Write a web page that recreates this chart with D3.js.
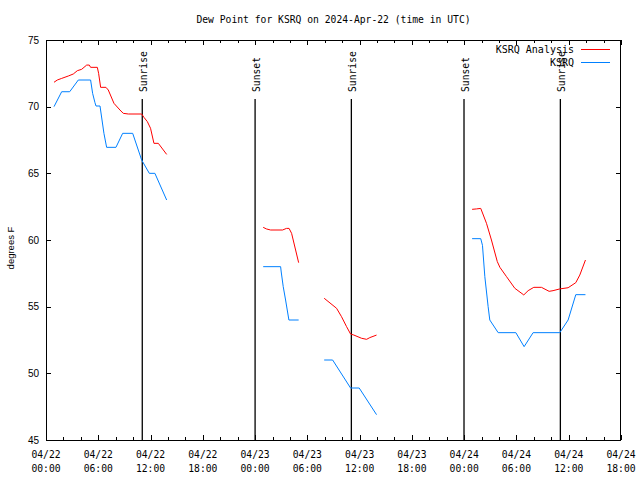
<!DOCTYPE html>
<html>
<head>
<meta charset="utf-8">
<script src="https://cdn.jsdelivr.net/npm/d3@7/dist/d3.min.js"></script>
<style>
  html, body { margin: 0; padding: 0; background: #fff; }
  svg { display: block; }
  .mono { font-family: "DejaVu Sans Mono", "Liberation Mono", monospace; font-size: 9.7px; fill: #000; }
  .sans { font-family: "Liberation Sans", Arial, sans-serif; fill: #000; }
</style>
</head>
<body>
<svg id="chart" width="640" height="480"></svg>
<script>
// ---- Data (hours since 2024-04-22 00:00 UTC; null = gap) ----
const titleText = "Dew Point for KSRQ on 2024-Apr-22 (time in UTC)";
const yLabelText = "degrees F";
const seriesNames = ["KSRQ Analysis", "KSRQ"];
const seriesColors = ["#ff0000", "#0080ff"];

const analysisHours = [0.92,1.3,1.8,2.56,3.13,3.6,4.09,4.67,4.97,5.12,5.89,6.04,6.27,6.88,7.15,7.8,8.49,8.87,9.45,10.98,11.24,11.63,12.0,12.39,12.89,13.85, null,
  24.93,25.3,25.78,27.15,27.6,27.9,28.19,29.0, null,
  31.93,33.35,33.92,34.5,34.96,35.34,36.22,36.8,37.17,37.94, null,
  48.91,49.41,49.9,50.56,51.13,51.8,52.1,52.86,53.81,54.84,55.34,55.99,56.87,57.75,58.2,58.97,59.93,60.81,61.27,61.92];
const analysisValues = [71.83,72.0,72.12,72.3,72.45,72.7,72.8,73.12,73.12,72.95,72.95,72.5,71.45,71.45,71.25,70.25,69.75,69.5,69.45,69.45,69.2,68.88,68.38,67.25,67.25,66.42, null,
  60.95,60.83,60.75,60.75,60.87,60.87,60.5,58.3, null,
  55.63,54.88,54.25,53.5,52.95,52.87,52.63,52.55,52.68,52.87, null,
  62.3,62.33,62.37,61.25,60.0,58.38,57.95,57.25,56.38,55.88,56.2,56.45,56.45,56.15,56.2,56.33,56.42,56.8,57.37,58.5];

const obsHours = [0.92,1.8,2.72,3.71,5.12,5.35,5.62,5.74,6.2,6.65,6.96,8.03,8.8,9.95,10.98,11.86,12.5,13.85, null,
  24.93,26.93,27.0,27.23,27.5,27.88,29.0, null,
  31.93,32.9,34.96,35.95,37.94, null,
  48.91,49.9,50.1,50.37,50.75,50.94,51.9,53.93,54.88,55.91,58.97,59.93,60.81,61.92];
const obsValues = [70.0,71.12,71.12,72.0,72.0,71.0,70.3,70.05,70.05,68.0,66.95,66.95,68.0,68.0,66.0,65.0,65.0,63.0, null,
  58.0,58.0,57.6,56.5,55.5,54.0,54.0, null,
  51.0,51.0,48.9,48.9,46.9, null,
  60.1,60.1,59.6,57.25,55.0,54.0,53.05,53.05,52.0,53.05,53.05,54.0,55.9,55.9];

const sunEventHours = [11.05, 24.0, 35.05, 47.98, 59.04];
const sunEventLabels = ["Sunrise", "Sunset", "Sunrise", "Sunset", "Sunrise"];

const yTicks = [45, 50, 55, 60, 65, 70, 75];
const yDomain = [45, 75];
const startTime = Date.UTC(2024, 3, 22, 0);
const endTime = Date.UTC(2024, 3, 24, 18);

// ---- Layout ----
const L = 46, R = 621, T = 40, B = 440;
const svg = d3.select("#chart");
const toDate = h => new Date(startTime + h * 3600e3);

const x = d3.scaleUtc().domain([new Date(startTime), new Date(endTime)]).range([L, R]);
const y = d3.scaleLinear().domain(yDomain).range([B, T]);

// Title
svg.append("text").attr("class", "mono").attr("x", (L + R) / 2).attr("y", 23)
  .attr("text-anchor", "middle").text(titleText);

// Y label
svg.append("text").attr("class", "sans").style("font-size", "9.5px")
  .attr("transform", `translate(14,248) rotate(-90)`)
  .attr("text-anchor", "middle").text(yLabelText);

// Ticks via axes (inward)
const majorTicks = d3.utcHour.every(6).range(new Date(startTime), new Date(endTime + 1));
const minorTicks = d3.utcHour.every(2).range(new Date(startTime), new Date(endTime + 1));

function styleAxis(g) {
  g.select(".domain").remove();
  g.selectAll("line").attr("stroke", "#000").attr("shape-rendering", "crispEdges");
  g.selectAll("text").remove();
}
svg.append("g").attr("transform", `translate(0,${B})`)
  .call(d3.axisBottom(x).tickValues(minorTicks).tickSize(-3).tickFormat("")).call(styleAxis);
svg.append("g").attr("transform", `translate(0,${B})`)
  .call(d3.axisBottom(x).tickValues(majorTicks).tickSize(-5).tickFormat("")).call(styleAxis);
svg.append("g").attr("transform", `translate(0,${T})`)
  .call(d3.axisTop(x).tickValues(minorTicks).tickSize(-3).tickFormat("")).call(styleAxis);
svg.append("g").attr("transform", `translate(0,${T})`)
  .call(d3.axisTop(x).tickValues(majorTicks).tickSize(-5).tickFormat("")).call(styleAxis);
svg.append("g").attr("transform", `translate(${L},0)`)
  .call(d3.axisLeft(y).tickValues(yTicks).tickSize(-5).tickFormat("")).call(styleAxis);
svg.append("g").attr("transform", `translate(${R},0)`)
  .call(d3.axisRight(y).tickValues(yTicks).tickSize(-5).tickFormat("")).call(styleAxis);

// X tick labels (two lines)
const fmtDay = d3.utcFormat("%m/%d"), fmtTime = d3.utcFormat("%H:%M");
const xl = svg.append("g");
majorTicks.forEach(d => {
  xl.append("text").attr("class", "mono").attr("x", x(d)).attr("y", 458)
    .attr("text-anchor", "middle").text(fmtDay(d));
  xl.append("text").attr("class", "mono").attr("x", x(d)).attr("y", 472)
    .attr("text-anchor", "middle").text(fmtTime(d));
});

// Y tick labels
yTicks.forEach(v => {
  svg.append("text").attr("class", "sans").style("font-size", "10px")
    .attr("x", 39).attr("y", y(v) + 3.8).attr("text-anchor", "end").text(v);
});

// Sun events
sunEventHours.forEach((h, i) => {
  const px = x(toDate(h));
  svg.append("line").attr("x1", px).attr("x2", px).attr("y1", 99).attr("y2", B)
    .attr("stroke", "#000").attr("stroke-width", 1.3);
  svg.append("text").attr("class", "mono")
    .attr("transform", `translate(${px + 4.8},92) rotate(-90)`)
    .attr("text-anchor", "start").text(sunEventLabels[i]);
});

// Series
const line = d3.line()
  .defined(d => d[0] !== null && d[1] !== null)
  .x(d => x(toDate(d[0]))).y(d => y(d[1]));
const seriesData = [
  d3.zip(analysisHours, analysisValues),
  d3.zip(obsHours, obsValues)
];
seriesData.forEach((data, i) => {
  svg.append("path").datum(data).attr("d", line)
    .attr("fill", "none").attr("stroke", seriesColors[i]).attr("stroke-width", 1);
});

// Frame
svg.append("rect").attr("x", L + 0.5).attr("y", T + 0.5).attr("width", R - L - 1).attr("height", B - T)
  .attr("fill", "none").attr("stroke", "#000").attr("stroke-width", 1).attr("shape-rendering", "crispEdges");

// Legend
seriesNames.forEach((name, i) => {
  const ly = 49.5 + i * 13;
  svg.append("text").attr("class", "mono").style("font-size", "10px")
    .attr("x", 574).attr("y", ly + 3.5).attr("text-anchor", "end").text(name);
  svg.append("line").attr("x1", 581).attr("x2", 610).attr("y1", ly).attr("y2", ly)
    .attr("stroke", seriesColors[i]).attr("stroke-width", 1);
});
</script>
</body>
</html>
